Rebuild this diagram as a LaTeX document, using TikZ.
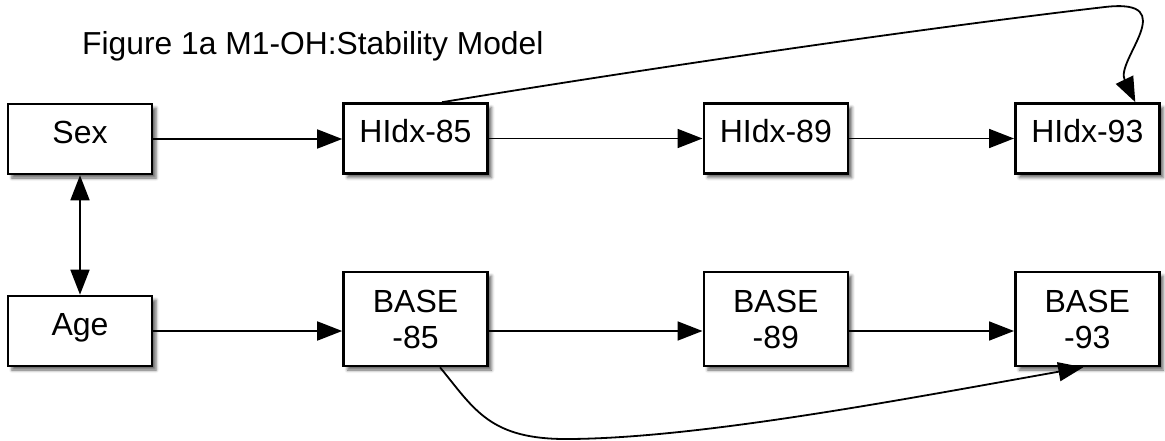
\documentclass[tikz,border=0pt]{standalone}
\usepackage{fontspec}
\setmainfont{Liberation Sans}
\usetikzlibrary{arrows.meta,shadows.blur}

\tikzset{
  var/.style={draw=black, line width=2.6pt, fill=white,
    minimum width=144pt, inner sep=0pt, align=center,
    font=\fontsize{32}{36}\selectfont,
    blur shadow={shadow xshift=4pt, shadow yshift=-4pt,
      shadow blur radius=3pt, shadow opacity=60}},
  single/.style={var, minimum height=70pt, text height=22.5pt, text depth=14pt},
  double/.style={var, minimum height=94pt},
  link/.style={line width=1.8pt, -{Triangle[length=25pt,width=19pt]}},
  both/.style={line width=1.8pt, {Triangle[length=25pt,width=19pt]}-{Triangle[length=25pt,width=19pt]}}
}

\begin{document}
\begin{tikzpicture}[x=1pt,y=-1pt]
  \useasboundingbox (0,0) rectangle (1165,441);

  % heading
  \node[anchor=base west, inner sep=0pt, font=\fontsize{31.8}{36}\selectfont]
    (title) at (82,55) {Figure 1a M1-OH:Stability Model};

  % upper row
  \node[single] (sex) at (80,139)      {Sex};
  \node[single] (h85) at (415.5,138.5) {HIdx-85};
  \node[single] (h89) at (775.8,138.5) {HIdx-89};
  \node[single] (h93) at (1087.3,138.5){HIdx-93};

  % lower row
  \node[single] (age) at (80,331)      {Age};
  \node[double] (b85) at (415.5,319)   {BASE\\-85};
  \node[double] (b89) at (775.8,319)   {BASE\\-89};
  \node[double] (b93) at (1087.3,319)  {BASE\\-93};

  % straight paths
  \draw[link] (sex.east) -- (h85.west |- sex.east);
  \draw[link] (h85.east) -- (h89.west);
  \draw[link] (h89.east) -- (h93.west);
  \draw[both] (sex.south) -- (age.north);
  \draw[link] (age.east) -- (b85.west |- age.east);
  \draw[link] (b85.east |- age.east) -- (b89.west |- age.east);
  \draw[link] (b89.east |- age.east) -- (b93.west |- age.east);

  % curved paths skipping a wave
  \coordinate (topbend) at (1105,7);
  \coordinate (lowbend) at (570,439);
  \draw[link] ([xshift=26.5pt]h85.north)
    .. controls (700,60) and (950,25) .. (topbend)
    .. controls (1183,-2) and (1115,60) .. ([xshift=48pt]h93.north);
  \draw[link] ([xshift=24.5pt]b85.south)
    .. controls (475,410) and (490,440) .. (lowbend)
    .. controls (700,438) and (900,400) .. ([xshift=-4pt]b93.south);
\end{tikzpicture}
\end{document}
